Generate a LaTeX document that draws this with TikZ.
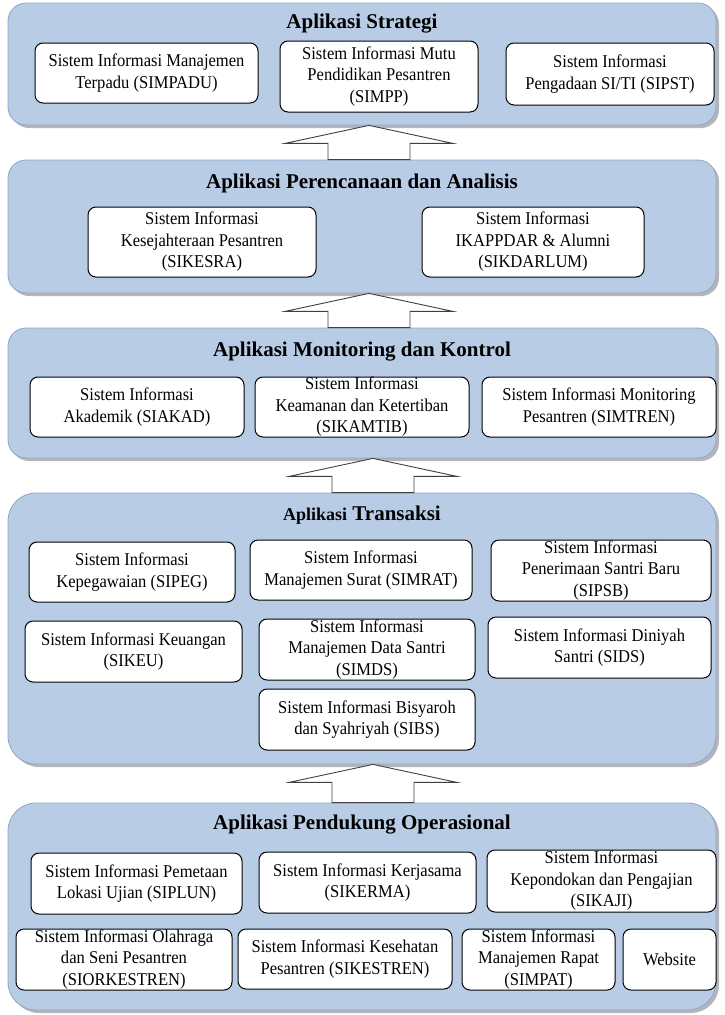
\documentclass[tikz,border=0pt]{standalone}
\usepackage{fontspec}
\setmainfont{Liberation Serif}[FakeStretch=0.92]
\newfontfamily\headfont{Liberation Serif}
\usetikzlibrary{shadows,calc}

\definecolor{panelblue}{RGB}{185,204,230}
\definecolor{paneledge}{RGB}{140,165,200}
\definecolor{shadowgray}{RGB}{150,150,155}

\tikzset{
  panel/.style={draw=paneledge, fill=panelblue, line width=0.8pt, rounded corners=18pt,
    inner sep=0pt, drop shadow={shadow xshift=3pt, shadow yshift=-3pt, fill=shadowgray, opacity=0.7}},
  sysbox/.style={draw=black, fill=white, line width=1pt, rounded corners=8pt, align=center,
    inner sep=0pt, font=\fontsize{18}{21.5}\selectfont},
  heading/.style={font=\headfont\bfseries\fontsize{21}{25}\selectfont, inner sep=0pt},
  blockarrow/.style={draw=black!75, fill=white, line width=0.9pt, line join=miter},
}

% panel: name, centre x, centre y, width, height
\newcommand\layer[5]{\node[panel, minimum width=#4pt, minimum height=#5pt] (#1) at (#2,#3) {};}
% system box: name, centre x, centre y, width, height, text
\newcommand\sysnode[6]{\node[sysbox, minimum width=#4pt, minimum height=#5pt] (#1) at (#2,#3) {#6};}
% hollow upward arrow from the lower panel to the upper one: upper, lower, centre x
\newcommand\liftarrow[3]{%
  \draw[blockarrow]
    ($(#3,0 |- #2.north)+(-41,0)$) -- ($(#3,0 |- #1.south)+(-41,18)$)
    -- ($(#3,0 |- #1.south)+(-84,18)$) -- (#3,0 |- #1.south)
    -- ($(#3,0 |- #1.south)+(84,18)$) -- ($(#3,0 |- #1.south)+(41,18)$)
    -- ($(#3,0 |- #2.north)+(41,0)$) -- cycle;}

\begin{document}
\begin{tikzpicture}[x=1pt, y=-1pt]
\useasboundingbox (0,0) rectangle (724,1015);

% layers
\layer{strategi}{362}{64}{708}{122}
\layer{perencanaan}{362}{226.5}{708}{133}
\layer{monitoring}{362}{393}{708}{130}
\begin{scope}[panel/.append style={rounded corners=28pt}]
\layer{transaksi}{362}{628.5}{708}{271}
\layer{pendukung}{362}{906.5}{708}{207}
\end{scope}

% layer headings
\node[heading] (hStrategi) at (362,24) {Aplikasi Strategi};
\node[heading] (hPerencanaan) at (362,183) {Aplikasi Perencanaan dan Analisis};
\node[heading] (hMonitoring) at (362,352) {Aplikasi Monitoring dan Kontrol};
\node[heading] (hTransaksi) at (362,515) {{\fontsize{18}{22}\selectfont Aplikasi} Transaksi};
\node[heading] (hPendukung) at (362,825) {Aplikasi Pendukung Operasional};

% Aplikasi Strategi
\sysnode{simpadu}{146.5}{73}{223}{60}{Sistem Informasi Manajemen\\Terpadu (SIMPADU)}
\sysnode{simpp}{379}{76.5}{198}{71}{Sistem Informasi Mutu\\Pendidikan Pesantren\\(SIMPP)}
\sysnode{sipst}{610}{74}{208}{62}{Sistem Informasi\\Pengadaan SI/TI (SIPST)}

% Aplikasi Perencanaan dan Analisis
\sysnode{sikesra}{202}{242}{228}{70}{Sistem Informasi\\Kesejahteraan Pesantren\\(SIKESRA)}
\sysnode{sikdarlum}{533}{242}{222}{70}{Sistem Informasi\\IKAPPDAR \& Alumni\\(SIKDARLUM)}

% Aplikasi Monitoring dan Kontrol
\sysnode{siakad}{137}{407}{214}{60}{Sistem Informasi\\Akademik (SIAKAD)}
\sysnode{sikamtib}{362}{407}{214}{60}{Sistem Informasi\\Keamanan dan Ketertiban\\(SIKAMTIB)}
\sysnode{simtren}{599}{407}{234}{60}{Sistem Informasi Monitoring\\Pesantren (SIMTREN)}

% Aplikasi Transaksi
\sysnode{sipeg}{132}{572}{206}{60}{Sistem Informasi\\Kepegawaian (SIPEG)}
\sysnode{simrat}{361}{570}{222}{60}{Sistem Informasi\\Manajemen Surat (SIMRAT)}
\sysnode{sipsb}{601}{570.5}{220}{61}{Sistem Informasi\\Penerimaan Santri Baru\\(SIPSB)}
\sysnode{sikeu}{133.5}{651.5}{217}{61}{Sistem Informasi Keuangan\\(SIKEU)}
\sysnode{simds}{367}{649.5}{216}{61}{Sistem Informasi\\Manajemen Data Santri\\(SIMDS)}
\sysnode{sids}{599.5}{647.5}{223}{61}{Sistem Informasi Diniyah\\Santri (SIDS)}
\sysnode{sibs}{367}{719.5}{216}{61}{Sistem Informasi Bisyaroh\\dan Syahriyah (SIBS)}

% Aplikasi Pendukung Operasional
\sysnode{siplun}{136.5}{883.5}{211}{61}{Sistem Informasi Pemetaan\\Lokasi Ujian (SIPLUN)}
\sysnode{sikerma}{367.5}{882.5}{217}{61}{Sistem Informasi Kerjasama\\(SIKERMA)}
\sysnode{sikaji}{601.5}{881}{229}{62}{Sistem Informasi\\Kepondokan dan Pengajian\\(SIKAJI)}
\sysnode{siorkestren}{124}{959.5}{216}{61}{Sistem Informasi Olahraga\\dan Seni Pesantren\\(SIORKESTREN)}
\sysnode{sikestren}{345}{959}{214}{60}{Sistem Informasi Kesehatan\\Pesantren (SIKESTREN)}
\sysnode{simpat}{538.5}{959.5}{153}{61}{Sistem Informasi\\Manajemen Rapat\\(SIMPAT)}
\sysnode{website}{669.5}{959.5}{93}{61}{Website}

% arrows between layers
\liftarrow{strategi}{perencanaan}{369}
\liftarrow{perencanaan}{monitoring}{369}
\liftarrow{monitoring}{transaksi}{373}
\liftarrow{transaksi}{pendukung}{373}
\end{tikzpicture}
\end{document}
